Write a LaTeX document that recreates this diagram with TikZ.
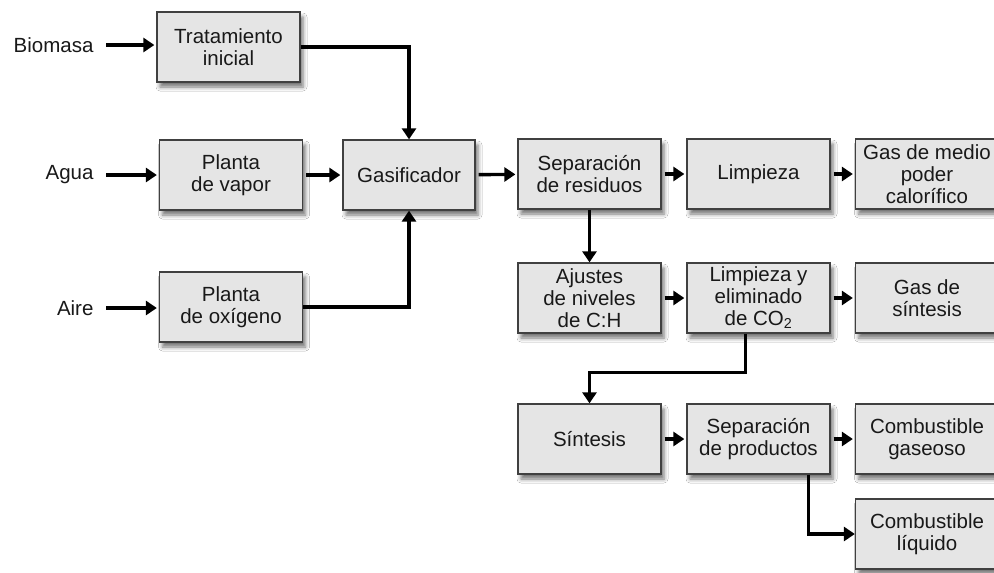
\documentclass[tikz,border=0pt]{standalone}
\usepackage{fontspec}
\setmainfont{Liberation Sans}
\usetikzlibrary{shadows.blur,arrows.meta}
\begin{document}
\begin{tikzpicture}[x=1pt,y=-1pt,
  box/.style={draw=black!75, line width=1.3pt, fill=black!10, minimum width=143pt, minimum height=70pt,
    align=center, font=\fontsize{20.5}{22}\selectfont, text=black!90,
    blur shadow={shadow xshift=3pt, shadow yshift=-5pt, shadow blur radius=4pt, shadow opacity=55}},
  lbl/.style={font=\fontsize{20.5}{22}\selectfont, text=black!90, anchor=east},
  arr/.style={line width=3.4pt, -{Triangle[width=14pt,length=11pt]}, shorten <=3pt, shorten >=2pt},
  ln/.style={line width=3.4pt, -{Triangle[width=14pt,length=11pt]}}]
\useasboundingbox[fill=white] (0,0) rectangle (994,573);
\node[box] (trat) at (228.5,47) {Tratamiento\\inicial};
\node[box] (vapor) at (231,175) {Planta\\de vapor};
\node[box] (oxig) at (231,307) {Planta\\de oxígeno};
\node[box, minimum width=132pt] (gas) at (409,175) {Gasificador};
\node[box] (sepres) at (589.5,174) {Separación\\de residuos};
\node[box] (limp) at (758.5,174) {Limpieza};
\node[box] (gasmed) at (927,174) {Gas de medio\\poder\\calorífico};
\node[box] (ajus) at (589.5,298) {Ajustes\\de niveles\\de C:H};
\node[box] (limpco) at (758.5,298) {Limpieza y\\eliminado\\de CO\textsubscript{2}};
\node[box] (gassint) at (927,298) {Gas de\\síntesis};
\node[box] (sint) at (589.5,439) {Síntesis};
\node[box] (sepprod) at (758.5,439) {Separación\\de productos};
\node[box] (combgas) at (927,439) {Combustible\\gaseoso};
\node[box] (combliq) at (927,534) {Combustible\\líquido};
\node[lbl] (bio) at (97,45) {Biomasa};
\node[lbl] (agua) at (97,175) {Agua};
\node[lbl] (aire) at (97,308) {Aire};
\draw[arr, shorten <=9pt] (bio.east) -- (bio.east -| trat.west);
\draw[arr, shorten <=9pt] (agua.east) -- (agua.east -| vapor.west);
\draw[arr, shorten <=9pt] (aire.east) -- (aire.east -| oxig.west);
\draw[ln] (trat.east) -| (gas.north);
\draw[ln] (oxig.east) -| (gas.south);
\draw[arr] (vapor) -- (gas);
\draw[arr] (gas) -- (sepres);
\draw[arr] (sepres) -- (limp);
\draw[arr] (limp) -- (gasmed);
\draw[arr] (ajus) -- (limpco);
\draw[arr] (limpco) -- (gassint);
\draw[arr] (sint) -- (sepprod);
\draw[arr] (sepprod) -- (combgas);
\draw[ln] (sepres.south) -- (ajus.north);
\draw[ln] ([xshift=-13pt]limpco.south) -- ++(0,39) -| (sint.north);
\draw[ln] ([xshift=50pt]sepprod.south) |- (combliq.west);
\end{tikzpicture}
\end{document}
